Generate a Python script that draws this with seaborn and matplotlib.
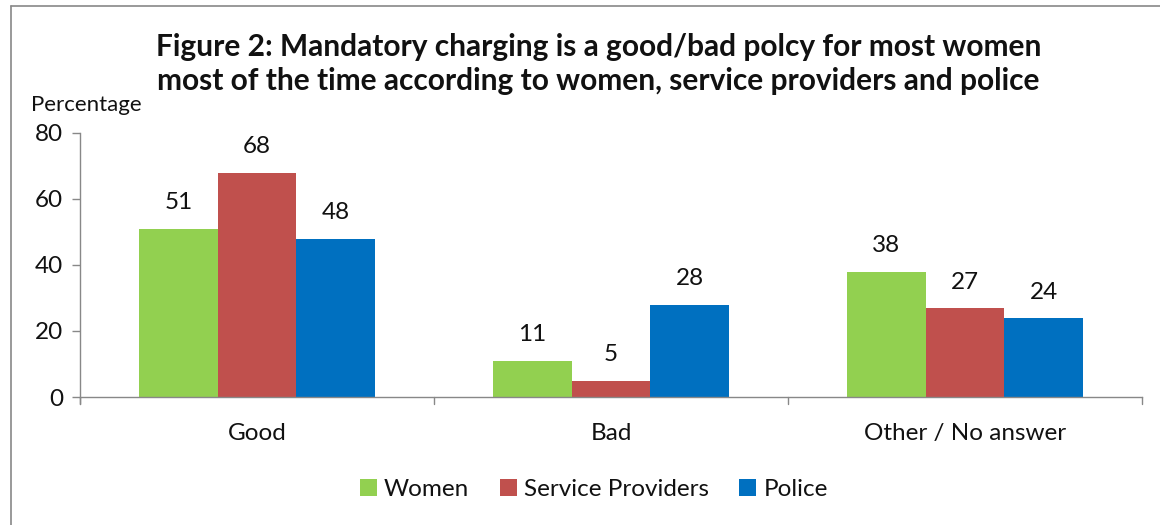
import matplotlib
matplotlib.use("Agg")
import matplotlib.pyplot as plt
import seaborn as sns
import pandas as pd
from matplotlib.patches import Patch
from matplotlib.lines import Line2D

categories = ["Good", "Bad", "Other / No answer"]
groups = ["Women", "Service Providers", "Police"]
women = [51, 11, 38]
providers = [68, 5, 27]
police = [48, 28, 24]
colors = ["#92D050", "#C0504D", "#0070C0"]

df = pd.DataFrame({
    "category": categories * 3,
    "group": [g for g in groups for _ in categories],
    "value": women + providers + police,
})

sns.set_theme(style="white")
plt.rcParams["font.family"] = ["Lato", "DejaVu Sans"]

fig = plt.figure(figsize=(11.6, 5.25), dpi=100)
ax = fig.add_axes([0.069, 0.2438, 0.9155, 0.5029])

sns.barplot(data=df, x="category", y="value", hue="group", order=categories,
            hue_order=groups, palette=colors, width=0.667, saturation=1,
            ax=ax, legend=False, edgecolor="none")

for cont in ax.containers:
    ax.bar_label(cont, labels=[f"{v:.0f}" for v in cont.datavalues],
                 padding=11, fontsize=17.5, color="#111111")

ax.set_ylim(0, 80)
ax.set_yticks([0, 20, 40, 60, 80])
ax.set_xlim(-0.5, 2.5)
ax.set_xlabel("")
ax.set_ylabel("")
ax.tick_params(axis="y", labelsize=17.5, length=6, width=1, color="#888888",
               direction="out", left=True, pad=6, labelcolor="#111111")
ax.tick_params(axis="x", labelsize=17.5, length=0, pad=19, labelcolor="#111111")
# boundary ticks between categories on the x axis
for xb in [-0.5, 0.5, 1.5, 2.5]:
    ax.add_line(Line2D([xb, xb], [0, -0.025], transform=ax.get_xaxis_transform(),
                       color="#888888", lw=1, clip_on=False))
for side in ["top", "right"]:
    ax.spines[side].set_visible(False)
for side in ["left", "bottom"]:
    ax.spines[side].set_color("#888888")
    ax.spines[side].set_linewidth(1)
ax.spines["left"].set_bounds(0, 80)
ax.add_line(Line2D([0, 0], [0, -0.025], transform=ax.transAxes,
                   color="#888888", lw=1, clip_on=False))

fig.text(0.516, 0.91, "Figure 2: Mandatory charging is a good/bad polcy for most women",
         ha="center", va="center", fontsize=21.5, fontweight="bold", color="#111111")
fig.text(0.516, 0.845, "most of the time according to women, service providers and police",
         ha="center", va="center", fontsize=21.5, fontweight="bold", color="#111111")
fig.text(0.074, 0.80, "Percentage", ha="center", va="center", fontsize=16,
         color="#111111")

handles = [Patch(facecolor=c, edgecolor="none") for c in colors]
fig.legend(handles, groups, loc="center", bbox_to_anchor=(0.512, 0.068), ncol=3,
           frameon=False, fontsize=17.5, handlelength=0.7, handleheight=0.7,
           handletextpad=0.3, columnspacing=1.25, labelcolor="#111111")

# chart frame (left and top edges)
fig.add_artist(Line2D([0.0095, 0.0095], [0, 0.989], transform=fig.transFigure,
                      color="#888888", lw=1.2))
fig.add_artist(Line2D([0.0095, 1.0], [0.989, 0.989], transform=fig.transFigure,
                      color="#888888", lw=1.2))

fig.savefig("out.png", dpi=100)
